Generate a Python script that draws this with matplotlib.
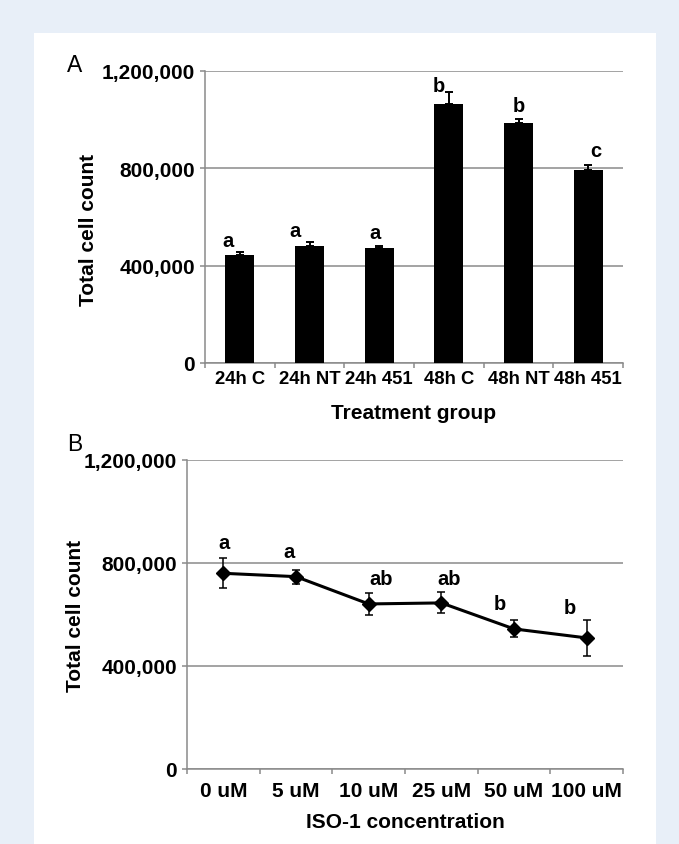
import matplotlib
matplotlib.use("Agg")
import matplotlib.pyplot as plt
from matplotlib.patches import Rectangle
from matplotlib.ticker import FuncFormatter, FixedLocator
import numpy as np

# ---------------- data ----------------
groups_a = ["24h C", "24h NT", "24h 451", "48h C", "48h NT", "48h 451"]
counts_a = [444000, 482000, 471000, 1064000, 986000, 793000]
err_a = [11000, 15000, 11000, 50000, 17000, 22000]
letters_a = ["a", "a", "a", "b", "b", "c"]

conc_b = ["0 uM", "5 uM", "10 uM", "25 uM", "50 uM", "100 uM"]
counts_b = [760000, 747000, 641000, 645000, 544000, 509000]
err_b = [58000, 27000, 42000, 41000, 33000, 71000]
letters_b = ["a", "a", "ab", "ab", "b", "b"]

yticks = [0, 400000, 800000, 1200000]

# ---------------- style ----------------
W, H = 679, 845
DPI = 100
FONT = "Liberation Sans"
GRID = "#8a8a8a"
BG = "#e8eff8"
plt.rcParams["font.family"] = [FONT, "DejaVu Sans"]

fig = plt.figure(figsize=(W / DPI, H / DPI), dpi=DPI, facecolor=BG)
fig.patches.append(Rectangle((34 / W, 0), 622 / W, (H - 34) / H,
                             transform=fig.transFigure, facecolor="white",
                             edgecolor="none", zorder=-10))

def px_axes(x0, y0, x1, y1):
    return fig.add_axes([x0 / W, (H - y1) / H, (x1 - x0) / W, (y1 - y0) / H])

def style_axes(ax, xfs, xpad):
    ax.set_facecolor("none")
    for s in ("top", "right"):
        ax.spines[s].set_visible(False)
    for s in ("left", "bottom"):
        ax.spines[s].set_color(GRID)
        ax.spines[s].set_linewidth(1.1)
    ax.set_ylim(0, 1200000)
    ax.yaxis.set_major_locator(FixedLocator(yticks))
    ax.yaxis.set_major_formatter(FuncFormatter(lambda v, p: f"{v:,.0f}"))
    ax.yaxis.grid(True, color=GRID, linewidth=1.1)
    ax.set_axisbelow(True)
    ax.tick_params(axis="y", which="major", direction="out", length=3.6,
                   width=1.1, color=GRID, pad=3.6, labelsize=15)
    ax.set_xlim(-0.5, 5.5)
    ax.set_xticks(range(6))
    ax.set_xticks(np.arange(-0.5, 6.0, 1.0), minor=True)
    ax.tick_params(axis="x", which="major", length=0, pad=xpad, labelsize=xfs)
    ax.tick_params(axis="x", which="minor", direction="out", length=3.6,
                   width=1.1, color=GRID)
    for lab in ax.get_xticklabels() + ax.get_yticklabels():
        lab.set_fontweight("bold")

# ---------------- panel A ----------------
axA = px_axes(205, 72, 623, 364)
style_axes(axA, 13.3, 5.4)
xa = np.arange(len(groups_a))
axA.bar(xa, counts_a, width=0.42, color="black", zorder=3)
axA.errorbar(xa, counts_a, yerr=[np.zeros(len(err_a)), err_a], fmt="none",
             ecolor="black", elinewidth=1.4, capsize=3, capthick=1.4, zorder=4)
axA.set_xticklabels(groups_a, fontweight="bold")
# letter offsets (dx px, gap px)
offs_a = [(-12, 6), (-14, 6), (-4, 8), (-10, 1), (0, 8), (8, 9)]
for i, (lt, (dx, dy)) in enumerate(zip(letters_a, offs_a)):
    axA.annotate(lt, (xa[i], counts_a[i] + err_a[i]), xytext=(dx * 0.72, dy * 0.72),
                 textcoords="offset points", ha="center", va="baseline",
                 fontsize=14.5, fontweight="bold", zorder=5)
axA.set_xlabel("Treatment group", fontsize=15, fontweight="bold")
axA.xaxis.set_label_coords(0.5, -0.137)
axA.set_ylabel("Total cell count", fontsize=15, fontweight="bold")
axA.yaxis.set_label_coords(-0.257, 0.459)
fig.text(67 / W, 1 - 72 / H, "A", fontsize=16.5, va="baseline", ha="left")

# ---------------- panel B ----------------
axB = px_axes(187, 461, 623, 770)
style_axes(axB, 15, 8.6)
xb = np.arange(len(conc_b))
axB.errorbar(xb, counts_b, yerr=err_b, fmt="none", ecolor="black",
             elinewidth=1.1, capsize=3, capthick=1.1, zorder=3)
axB.plot(xb, counts_b, color="black", linewidth=2.2, marker="D",
         markersize=7, zorder=4)
axB.set_xticklabels(conc_b, fontweight="bold")
offs_b = [(1, 10), (-7, 13), (12, 9), (8, 8), (-14, 11), (-17, 7)]
for i, (lt, (dx, dy)) in enumerate(zip(letters_b, offs_b)):
    axB.annotate(lt, (xb[i], counts_b[i] + err_b[i]), xytext=(dx * 0.72, dy * 0.72),
                 textcoords="offset points", ha="center", va="baseline",
                 fontsize=14.5, fontweight="bold", zorder=5)
axB.set_xlabel("ISO-1 concentration", fontsize=15, fontweight="bold")
axB.xaxis.set_label_coords(0.5, -0.139)
axB.set_ylabel("Total cell count", fontsize=15, fontweight="bold")
axB.yaxis.set_label_coords(-0.235, 0.5)
fig.text(67 / W, 1 - 451 / H, "B", fontsize=16.5, va="baseline", ha="left")

fig.savefig("out.png", dpi=DPI, facecolor=BG)
